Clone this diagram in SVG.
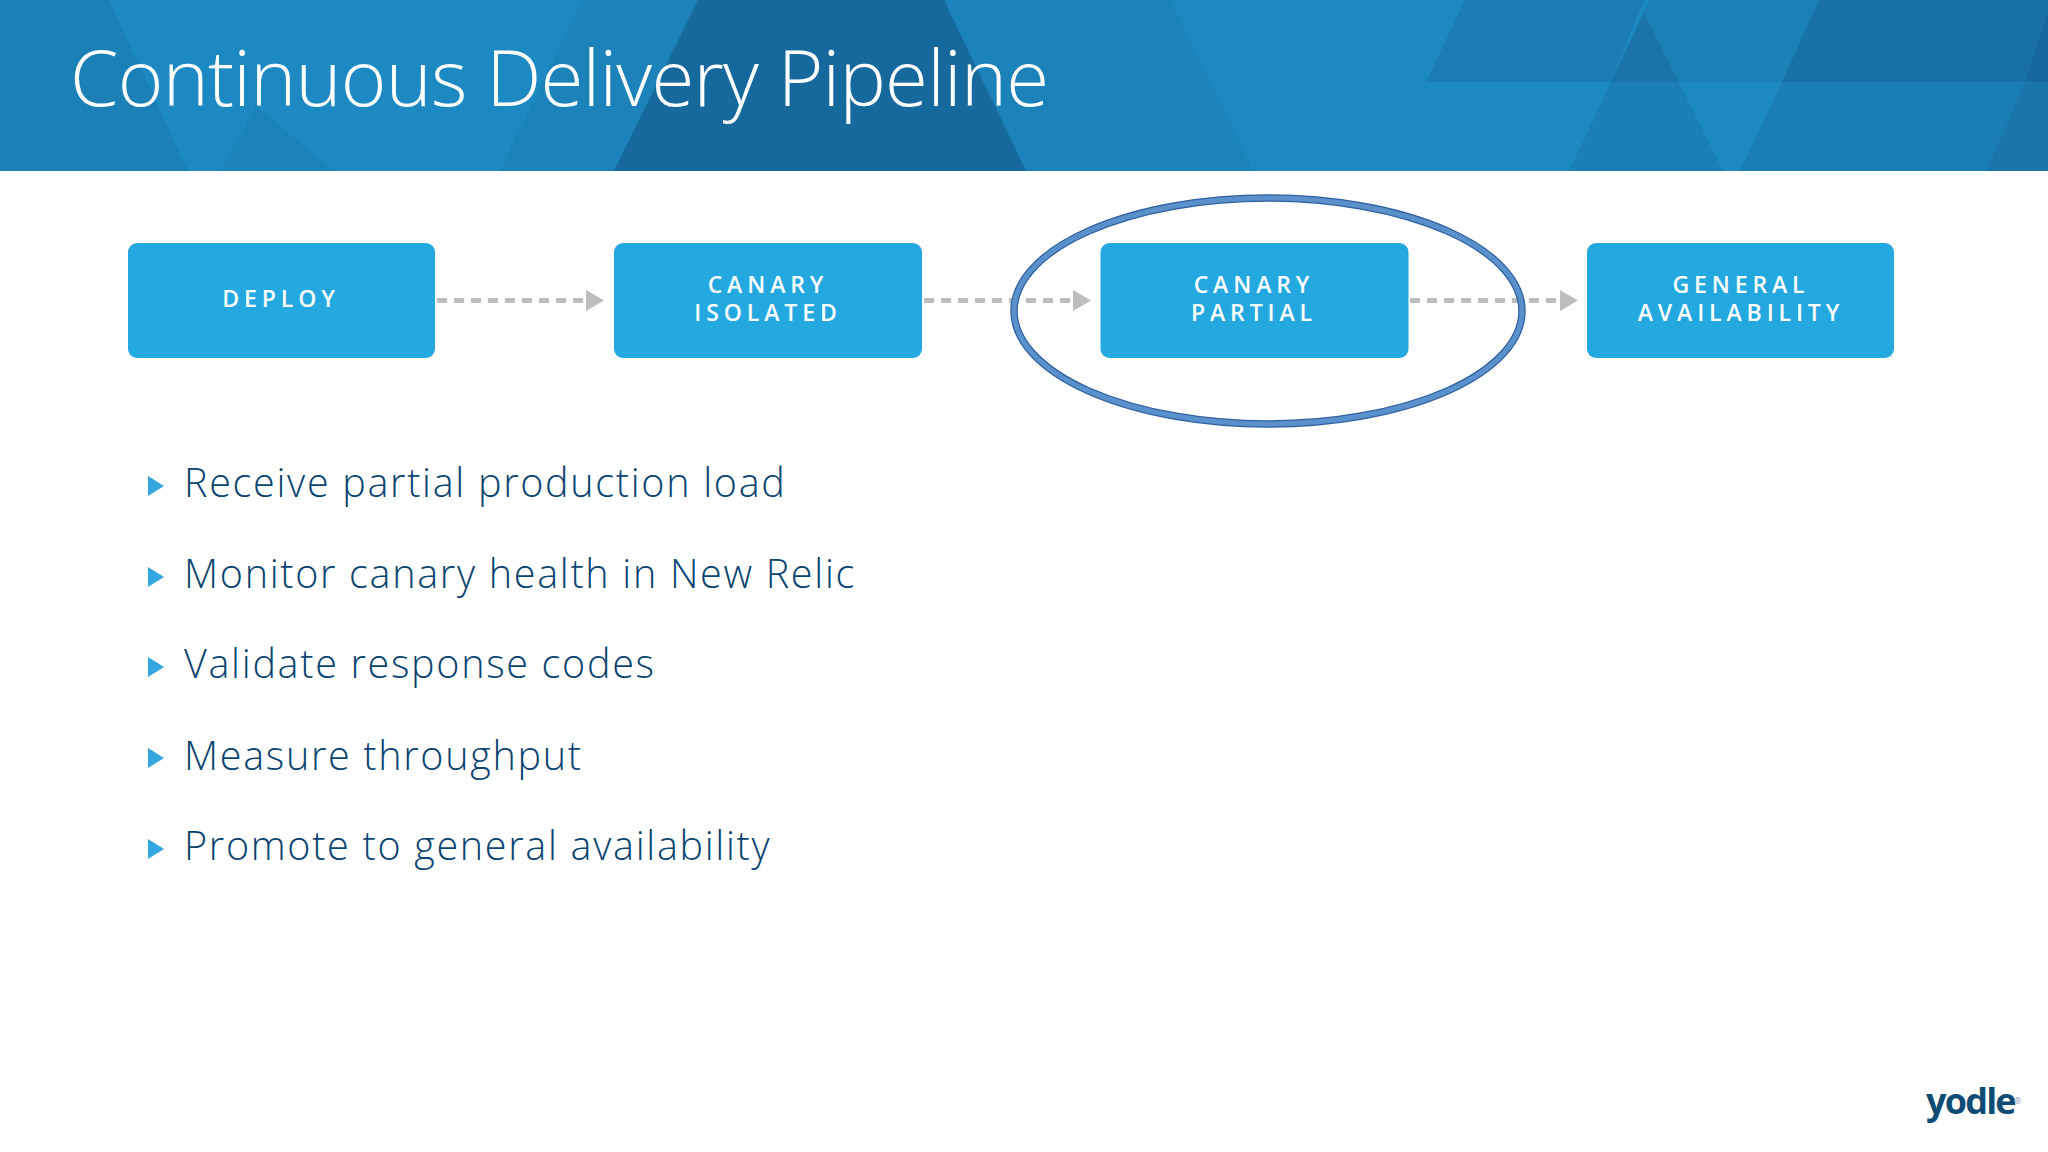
<svg xmlns="http://www.w3.org/2000/svg" width="2048" height="1152" viewBox="0 0 2048 1152">
<style>
.box{fill:#23a8e0}
.lbl{font-family:"Open Sans","Liberation Sans",sans-serif;font-weight:600;font-size:23px;letter-spacing:4.9px;fill:#fff;text-anchor:middle}
.item{font-family:"Open Sans","Liberation Sans",sans-serif;font-weight:300;font-size:39.500px;letter-spacing:1.700px;fill:#0a4470}
.tri{fill:#35a7e0}
.dash{stroke:#bdbdbf;stroke-width:5;stroke-dasharray:10 7;fill:none}
.head{fill:#bdbdbf}
</style>
<rect width="2048" height="1152" fill="#fff"/>
<g id="header">
<rect width="2048" height="171" fill="#1d89c3"/>
<polygon points="0,0 109,0 188,171 0,171" fill="#1b80b6"/>
<polygon points="221,171 256,105 333,171" fill="#1b82ba"/>
<polygon points="582,0 1171,0 1254,171 500,171" fill="#1b82ba"/>
<polygon points="698,0 944,0 1026,171 614,171" fill="#16699d"/>
<polygon points="1465,0 1644,0 1611,82 1426,82" fill="#1c7db5"/>
<polygon points="1644,12 1723,171 1569,171" fill="#1b7eb5"/>
<polygon points="1644,12 1679,82 1611,82" fill="#1a74aa"/>
<polygon points="1644,12 1650,0 1819,0 1782,82 1679,82" fill="#1b80b6"/>
<polygon points="1782,82 2025,82 1986,171 1740,171" fill="#1a7db5"/>
<polygon points="1819,0 2048,0 2048,10 2025,82 1782,82" fill="#1872a8"/>
<polygon points="2025,82 2048,10 2048,82" fill="#16699f"/>
<polygon points="2025,82 2048,82 2048,171 1986,171" fill="#1a75ab"/>
<text x="70" y="106" font-family="'Open Sans','Liberation Sans',sans-serif" font-weight="300" font-size="78" letter-spacing="-0.750" fill="#fff">Continuous Delivery Pipeline</text>
</g>
<g id="connectors">
<line class="dash" x1="437" y1="300.500" x2="587" y2="300.500"/>
<polygon class="head" points="586,290 604,300.500 586,311"/>
<line class="dash" x1="924" y1="300.500" x2="1074" y2="300.500"/>
<polygon class="head" points="1073,290 1091,300.500 1073,311"/>
<line class="dash" x1="1410" y1="300.500" x2="1561" y2="300.500"/>
<polygon class="head" points="1560,290 1578,300.500 1560,311"/>
</g>
<g id="deploy"><rect class="box" x="128" y="243" width="307" height="115" rx="9"/><text class="lbl" x="281" y="307">DEPLOY</text></g>
<g id="canary-isolated"><rect class="box" x="614" y="243" width="308" height="115" rx="9"/><text class="lbl" x="768" y="293">CANARY</text><text class="lbl" x="768" y="321">ISOLATED</text></g>
<g id="canary-partial"><rect class="box" x="1100.500" y="243" width="308" height="115" rx="9"/><text class="lbl" x="1254" y="293">CANARY</text><text class="lbl" x="1254" y="321">PARTIAL</text></g>
<g id="general-availability"><rect class="box" x="1587" y="243" width="307" height="115" rx="9"/><text class="lbl" x="1741" y="293">GENERAL</text><text class="lbl" x="1741" y="321">AVAILABILITY</text></g>
<g id="highlight">
<ellipse cx="1268" cy="311" rx="254" ry="113" fill="none" stroke="#2f619e" stroke-width="7.500"/>
<ellipse cx="1268" cy="311" rx="254" ry="113" fill="none" stroke="#5a90cc" stroke-width="5"/>
</g>
<g id="bullets">
<polygon class="tri" points="148,476 164,486 148,496"/><text class="item" x="184" y="497">Receive partial production load</text>
<polygon class="tri" points="148,567 164,577 148,587"/><text class="item" x="184" y="588">Monitor canary health in New Relic</text>
<polygon class="tri" points="148,657 164,667 148,677"/><text class="item" x="184" y="678">Validate response codes</text>
<polygon class="tri" points="148,748 164,758 148,768"/><text class="item" x="184" y="770">Measure throughput</text>
<polygon class="tri" points="148,839 164,849 148,859"/><text class="item" x="184" y="860">Promote to general availability</text>
</g>
<g id="logo"><text x="1926" y="1114" font-family="'Open Sans','Liberation Sans',sans-serif" font-weight="700" font-size="36" letter-spacing="-1.800" fill="#0f4c75">yodle</text><text x="2014" y="1104" font-family="'Open Sans','Liberation Sans',sans-serif" font-size="9" fill="#8aa0b5">®</text></g>
</svg>
